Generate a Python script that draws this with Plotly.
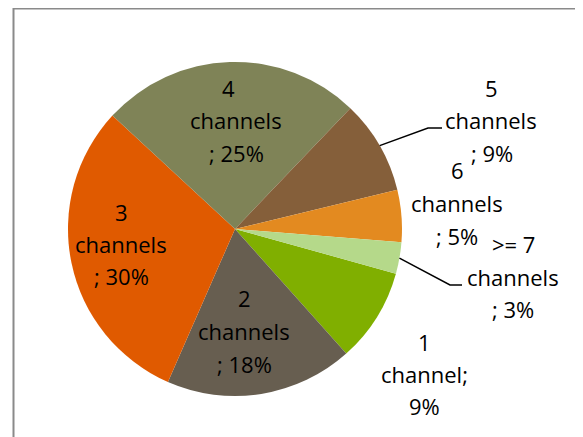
import math
import plotly.graph_objects as go

# ---- data ----
labels = ["1 channel", "2 channels", "3 channels", "4 channels",
          "5 channels", "6 channels", ">= 7 channels"]
values = [9, 18, 30, 25, 9, 5, 3]
colors = ["#80AF00", "#675E50", "#E05A00", "#7F8357",
          "#855F3A", "#E38A20", "#B5D98A"]
label_lines = [
    ["1", "channel;", "9%"],
    ["2", "channels", "; 18%"],
    ["3", "channels", "; 30%"],
    ["4", "channels", "; 25%"],
    ["5", "channels", "; 9%"],
    ["6", "channels", "; 5%"],
    [">= 7", "channels", "; 3%"],
]

# ---- layout constants ----
W, H = 583, 437
OFF = 8  # page body margin offset
CX, CY, R = 235, 229, 167
ROT = 105.5
FONT = "Open Sans"
FS = 22

def fx(px):
    return (px - OFF) / W

def fy(py):
    return 1 - (py - OFF) / H

# label line centres (screen pixels) per slice
label_pos = [
    [(424, 342), (424, 374), (424, 406)],
    [(244, 298), (244, 331), (244, 364)],
    [(121, 212), (121, 244), (121, 276)],
    [(228, 88), (236, 120), (236, 153)],
    [(491, 88), (491, 120), (492, 153)],
    [(457, 170), (457, 203), (457, 236)],
    [(513, 244), (513, 277), (513, 309)],
]
# leader line elbows for outside labels: slice index -> (elbow, end)
leaders = {4: ((428, 128), (442, 128)), 6: ((450, 285), (462, 285))}

fig = go.Figure(go.Pie(
    labels=labels, values=values, sort=False, direction="clockwise",
    rotation=ROT, marker=dict(colors=colors, line=dict(width=0)),
    textinfo="none", hoverinfo="label+percent", showlegend=False,
    domain=dict(x=[fx(CX - R), fx(CX + R)], y=[fy(CY + R), fy(CY - R)]),
))

annotations = []
for lines, poss in zip(label_lines, label_pos):
    for t, (px, py) in zip(lines, poss):
        annotations.append(dict(
            x=fx(px), y=fy(py), xref="paper", yref="paper", text=t,
            showarrow=False, xanchor="center", yanchor="middle",
            font=dict(family=FONT, size=FS, color="#000000")))

shapes = [dict(type="rect", xref="paper", yref="paper",
               x0=fx(13.5), y0=fy(H + 20), x1=fx(W + 20), y1=fy(8.5),
               line=dict(color="#8A8A8A", width=2))]

total = sum(values)
cum = 0
for i, v in enumerate(values):
    mid = ROT + (cum + v / 2) / total * 360
    cum += v
    if i in leaders:
        a = math.radians(mid)
        sx = CX + R * math.sin(a)
        sy = CY - R * math.cos(a)
        (ex, ey), (tx, ty) = leaders[i]
        path = f"M {fx(sx)} {fy(sy)} L {fx(ex)} {fy(ey)} L {fx(tx)} {fy(ty)}"
        shapes.append(dict(type="path", xref="paper", yref="paper", path=path,
                           line=dict(color="#000000", width=1.5)))

fig.update_layout(
    width=W, height=H, margin=dict(l=0, r=0, t=0, b=0),
    paper_bgcolor="white", plot_bgcolor="white",
    annotations=annotations, shapes=shapes,
)
fig.write_html("out.html")
